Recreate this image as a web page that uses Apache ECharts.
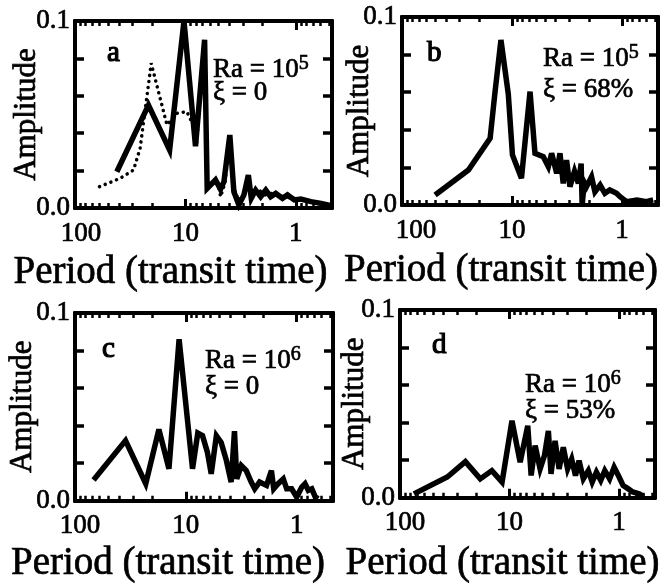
<!DOCTYPE html>
<html><head><meta charset="utf-8">
<script src="https://cdn.jsdelivr.net/npm/echarts@6/dist/echarts.min.js"></script>
<style>html,body{margin:0;padding:0;background:#fff}#c{width:671px;height:585px}</style>
</head><body><div id="c"></div>
<script>
// ---- tick labels / ticks ----
const xMajorTicks = [100, 10, 1];
const xMinorTicks = [90, 80, 70, 60, 50, 40, 30, 20, 9, 8, 7, 6, 5, 4, 3, 2, 0.9, 0.8, 0.7, 0.6, 0.5];
const yTickLabels = {0: '0.0', 0.1: '0.1'};
const panelLetters = ['a', 'b', 'c', 'd'];
const raExponents = ['5', '5', '6', '6'];
const xiLabels = ['ξ = 0', 'ξ = 68%', 'ξ = 0', 'ξ = 53%'];
const xTitle = 'Period (transit time)';
const yTitle = 'Amplitude';

// ---- panel a (Ra = 1e5, xi = 0) ----
const aSolidPeriod = [41.8, 21.6, 13.9, 10.3, 8.1, 6.7, 6.35, 5.34, 4.81, 4.48, 3.96, 3.64, 3.28, 2.95, 2.69, 2.53, 2.31, 2.08, 1.87, 1.69, 1.52, 1.32, 1.19, 1.03, 0.9, 0.73, 0.59, 0.48];
const aSolidAmp    = [0.0194, 0.055, 0.031, 0.100, 0.033, 0.090, 0.0105, 0.015, 0.010, 0.014, 0.039, 0.0087, 0.0016, 0.007, 0.0176, 0.0052, 0.0096, 0.006, 0.0096, 0.006, 0.0078, 0.0052, 0.007, 0.0043, 0.0048, 0.0034, 0.0025, 0.0012];
const aDotPeriod = [60, 39, 29.5, 25.7, 20.4, 14.7, 11.9, 9.7, 8.6, 7.9, 6.8, 6.3, 5.15, 4.8, 4.4, 3.96, 3.6, 3.3, 2.9, 2.7, 2.5, 2.2, 1.9, 1.6, 1.3, 1.0, 0.8, 0.6, 0.48];
const aDotAmp    = [0.0114, 0.0159, 0.0203, 0.032, 0.0774, 0.0444, 0.0506, 0.0515, 0.045, 0.035, 0.085, 0.012, 0.015, 0.006, 0.013, 0.036, 0.010, 0.004, 0.008, 0.016, 0.006, 0.010, 0.007, 0.008, 0.006, 0.005, 0.004, 0.002, 0.001];

// ---- panel b (Ra = 1e5, xi = 68%) ----
const bPeriod = [50, 24.9, 15.8, 14.3, 12.6, 10.8, 9.9, 8.2, 6.85, 6.18, 5.19, 4.67, 4.36, 3.92, 3.66, 3.42, 3.19, 2.97, 2.7, 2.49, 2.35, 2.3, 2.2, 2.1, 1.89, 1.76, 1.58, 1.43, 1.29, 1.12, 1.04, 0.906, 0.73, 0.6, 0.52];
const bAmp    = [0.0053, 0.0186, 0.0355, 0.0594, 0.0878, 0.059, 0.0266, 0.0142, 0.0603, 0.0275, 0.0257, 0.0204, 0.0275, 0.0169, 0.0275, 0.0115, 0.0239, 0.0097, 0.018, 0.0115, 0.022, 0.0, 0.012, 0.0097, 0.015, 0.007, 0.0106, 0.0062, 0.008, 0.0062, 0.0044, 0.0018, 0.0027, 0.0018, 0.0027];

// ---- panel c (Ra = 1e6, xi = 0) ----
const cPeriod = [68, 35, 23, 17.5, 14.2, 11.5, 8.7, 7.8, 7.07, 6.4, 5.9, 5.3, 4.8, 4.33, 3.9, 3.64, 3.47, 3.16, 2.85, 2.57, 2.39, 2.16, 1.87, 1.69, 1.61, 1.47, 1.32, 1.23, 1.11, 1.0, 0.9, 0.84, 0.785, 0.73, 0.68, 0.64];
const cAmp    = [0.011, 0.032, 0.009, 0.038, 0.017, 0.086, 0.017, 0.036, 0.0346, 0.026, 0.0143, 0.0346, 0.031, 0.022, 0.0099, 0.037, 0.0116, 0.0187, 0.016, 0.0099, 0.0063, 0.0099, 0.0081, 0.016, 0.0063, 0.009, 0.0116, 0.0063, 0.0063, 0.0019, 0.0072, 0.009, 0.0055, 0.0063, 0.002, 0.001];

// ---- panel d (Ra = 1e6, xi = 53%) ----
const dPeriod = [74.6, 37, 25.3, 18.5, 14.5, 11.7, 9.5, 8.0, 6.82, 6.35, 5.84, 5.26, 4.8, 4.42, 4.18, 3.84, 3.53, 3.23, 2.95, 2.71, 2.5, 2.32, 2.12, 1.91, 1.76, 1.61, 1.47, 1.35, 1.22, 1.11, 1.0, 0.92, 0.83, 0.75, 0.65, 0.6];
const dAmp    = [0.002, 0.011, 0.0192, 0.010, 0.0144, 0.0083, 0.041, 0.0189, 0.0383, 0.0118, 0.0277, 0.0153, 0.0224, 0.0356, 0.0127, 0.0303, 0.0153, 0.0268, 0.0153, 0.0206, 0.0118, 0.0197, 0.010, 0.0144, 0.0083, 0.0136, 0.0092, 0.0144, 0.010, 0.0162, 0.011, 0.0065, 0.0048, 0.003, 0.002, 0.0004];

const grids = [
  {left: 75, top: 21, width: 257, height: 187},
  {left: 402, top: 17, width: 256, height: 188},
  {left: 75, top: 313, width: 258, height: 189},
  {left: 400, top: 310, width: 255, height: 189}
];
const X_MIN = 0.47, X_MAX = 100;
const FONT = 'Liberation Serif';
const HEAVY = {textBorderColor: '#000', textBorderWidth: 0.7};
const xNameGap = [45, 46, 44, 47];
const xNameShift = [33, 29, 36, 25];
const yNameGap = [33, 27, 37, 30];
const label100Shift = [6, 14, 5, 5];

function zip(px, py) { return px.map((p, i) => [p, py[i]]); }

const xAxes = [], yAxes = [];
grids.forEach((g, i) => {
  const base = {type: 'log', logBase: 10, gridIndex: i, min: X_MIN, max: X_MAX, inverse: true,
    axisLine: {show: true, lineStyle: {color: '#000', width: 4}}, splitLine: {show: false}};
  const labelFont = Object.assign({fontFamily: FONT, fontSize: 27, color: '#000'}, HEAVY);
  xAxes.push(Object.assign({}, base, {
    position: 'bottom',
    name: xTitle, nameLocation: 'middle', nameGap: xNameGap[i], nameMoveOverlap: false,
    nameTextStyle: Object.assign({fontFamily: FONT, fontSize: 39, color: '#000', padding: [0, 2 * xNameShift[i], 0, 0]}, HEAVY),
    axisTick: {show: true, inside: true, length: 9, lineStyle: {color: '#000', width: 3}, customValues: xMajorTicks},
    axisLabel: Object.assign({show: true, customValues: xMajorTicks, margin: 12,
      formatter: v => {
        const s = String(Math.round(v * 1000) / 1000);
        return Math.abs(v - 100) < 1e-6 ? '{h|' + s + '}' : s;
      },
      rich: {h: Object.assign({padding: [0, 0, 0, 2 * label100Shift[i]]}, labelFont)}}, labelFont)
  }));
  xAxes.push(Object.assign({}, base, {
    position: 'bottom',
    axisTick: {show: true, inside: true, length: 5, lineStyle: {color: '#000', width: 2.5}, customValues: xMinorTicks},
    axisLabel: {show: false}
  }));
  xAxes.push(Object.assign({}, base, {
    position: 'top',
    axisTick: {show: true, inside: true, length: 9, lineStyle: {color: '#000', width: 3}, customValues: xMajorTicks},
    axisLabel: {show: false}
  }));
  xAxes.push(Object.assign({}, base, {
    position: 'top',
    axisTick: {show: true, inside: true, length: 5, lineStyle: {color: '#000', width: 2.5}, customValues: xMinorTicks},
    axisLabel: {show: false}
  }));
  const ybase = {type: 'value', gridIndex: i, min: 0, max: 0.1, interval: 0.02,
    axisLine: {show: true, lineStyle: {color: '#000', width: 4}}, splitLine: {show: false},
    axisTick: {show: true, inside: true, length: 9, lineStyle: {color: '#000', width: 3.5}}};
  yAxes.push(Object.assign({}, ybase, {
    position: 'left',
    name: yTitle, nameLocation: 'middle', nameGap: yNameGap[i], nameMoveOverlap: false,
    nameTextStyle: Object.assign({fontFamily: FONT, fontSize: 31, color: '#000'}, HEAVY),
    axisLabel: Object.assign({margin: 5,
      formatter: v => {
        if (Math.abs(v) < 1e-9) return yTickLabels[0];
        if (Math.abs(v - 0.1) < 1e-9) return yTickLabels[0.1];
        return '';
      }}, labelFont)
  }));
  yAxes.push(Object.assign({}, ybase, {position: 'right', axisLabel: {show: false}}));
});

const lineSeries = (xi, yi, data, style) => ({
  type: 'line', xAxisIndex: xi, yAxisIndex: yi, data: data, symbol: 'none', silent: true,
  lineStyle: Object.assign({color: '#000', width: 5.5, join: 'miter', miterLimit: 4}, style)
});

const series = [
  lineSeries(0, 0, zip(aDotPeriod, aDotAmp), {width: 3.5, type: [0.1, 6], cap: 'round'}),
  lineSeries(0, 0, zip(aSolidPeriod, aSolidAmp), {}),
  lineSeries(4, 2, zip(bPeriod, bAmp), {}),
  lineSeries(8, 4, zip(cPeriod, cAmp), {}),
  lineSeries(12, 6, zip(dPeriod, dAmp), {})
];

const letterPos = [[107, 53], [427, 53], [102, 349], [432, 345]];
const raPos = [[213, 70], [543, 59], [205, 361], [525, 385]];
const xiPos = [[213, 93], [543, 90], [205, 387], [525, 411]];
const graphics = [];
grids.forEach((g, i) => {
  graphics.push({type: 'text', x: letterPos[i][0], y: letterPos[i][1],
    style: {text: panelLetters[i], fontFamily: FONT, fontSize: 29, fill: '#000', verticalAlign: 'middle', stroke: '#000', lineWidth: 1.2}});
  graphics.push({type: 'text', x: raPos[i][0], y: raPos[i][1],
    style: {text: '{m|Ra = 10}{s|' + raExponents[i] + '}', verticalAlign: 'middle', stroke: '#000', lineWidth: 0.7,
      rich: {m: {fontFamily: FONT, fontSize: 27, fill: '#000'},
             s: {fontFamily: FONT, fontSize: 20, fill: '#000', verticalAlign: 'top', padding: [0, 0, 12, 0]}}}});
  graphics.push({type: 'text', x: xiPos[i][0], y: xiPos[i][1],
    style: {text: xiLabels[i], fontFamily: FONT, fontSize: 27, fill: '#000', verticalAlign: 'middle', stroke: '#000', lineWidth: 0.7}});
});

const chart = echarts.init(document.getElementById('c'), null, {renderer: 'canvas'});
chart.setOption({
  animation: false,
  backgroundColor: '#fff',
  grid: grids,
  xAxis: xAxes,
  yAxis: yAxes,
  series: series,
  graphic: graphics
});
</script></body></html>
